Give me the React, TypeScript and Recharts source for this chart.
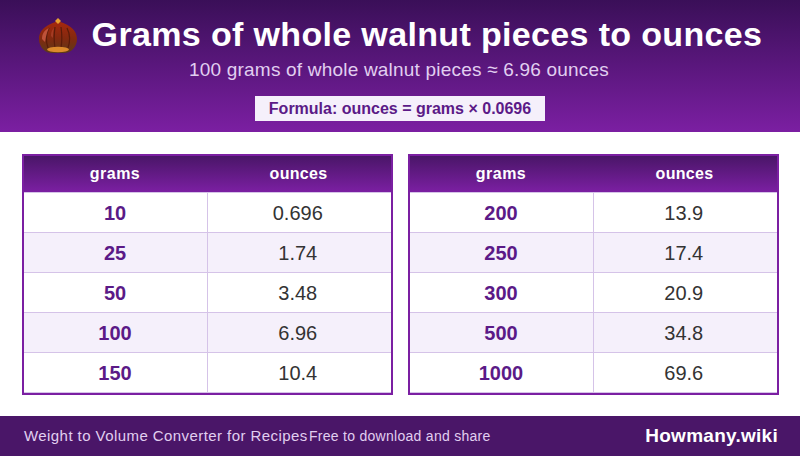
import React from 'react';
import { BarChart, Bar, XAxis, YAxis, LabelList, Cell, Surface } from 'recharts';

const FONT = '"Liberation Sans", Arial, sans-serif';
const title = 'Grams of whole walnut pieces to ounces';
const subtitle = '100 grams of whole walnut pieces ≈ 6.96 ounces';
const formula = 'Formula: ounces = grams × 0.0696';
const footerLeft = 'Weight to Volume Converter for Recipes';
const footerMiddle = 'Free to download and share';
const footerRight = 'Howmany.wiki';
const columns = ['grams', 'ounces'];

const gramsA = ['10', '25', '50', '100', '150'];
const ouncesA = ['0.696', '1.74', '3.48', '6.96', '10.4'];
const gramsB = ['200', '250', '300', '500', '1000'];
const ouncesB = ['13.9', '17.4', '20.9', '34.8', '69.6'];

const PURPLE = '#7b1fa2';
const LINE = '#d5c3e8';

const CellShape = (props: any) => {
  const { x, y, width, height, fill } = props;
  return (
    <g>
      <rect x={x} y={y} width={width} height={height} fill={fill} />
      <line x1={x} x2={x + width} y1={y + height - 0.5} y2={y + height - 0.5} stroke={LINE} />
      {props.divider ? (
        <line x1={Math.floor(x) + 0.5} x2={Math.floor(x) + 0.5} y1={y} y2={y + height} stroke={LINE} />
      ) : null}
    </g>
  );
};

const cellLabel = (color: string, weight: number, shift: number) => (p: any) => (
  <text
    x={p.x + p.width / 2 + shift}
    y={p.y + p.height / 2 + 6.5}
    textAnchor="middle"
    fill={color}
    fontFamily={FONT}
    fontWeight={weight}
    fontSize={20}
  >
    {p.value}
  </text>
);

function TableChart({ id, left, grams, ounces }: { id: string; left: number; grams: string[]; ounces: string[] }) {
  const rows = grams.map((g, i) => ({ grams: g, ounces: ounces[i], a: 1, b: 1 }));
  const W = 371;
  const H = 241;
  return (
    <div style={{ position: 'absolute', left, top: 154, width: W, height: H }}>
      <BarChart
        width={W}
        height={H}
        data={rows}
        layout="vertical"
        barCategoryGap={0}
        margin={{ top: 39, right: 2, bottom: 2, left: 2 }}
      >
        <defs>
          <linearGradient id={id} x1="0" y1="0" x2="0" y2="1">
            <stop offset="0" stopColor="#4a1668" />
            <stop offset="1" stopColor={PURPLE} />
          </linearGradient>
        </defs>
        <XAxis type="number" hide domain={[0, 2]} />
        <YAxis type="category" dataKey="grams" hide />
        <rect x={1} y={1} width={W - 2} height={H - 2} fill="none" stroke={PURPLE} strokeWidth={2} />
        <rect x={2} y={2} width={W - 4} height={36} fill={`url(#${id})`} />
        <line x1={2} x2={W - 2} y1={38.5} y2={38.5} stroke={LINE} />
        <text x={93} y={25} textAnchor="middle" fill="#fff" fontFamily={FONT} fontWeight={700} fontSize={16} letterSpacing={0.5}>{columns[0]}</text>
        <text x={276.5} y={25} textAnchor="middle" fill="#fff" fontFamily={FONT} fontWeight={700} fontSize={16} letterSpacing={0.3}>{columns[1]}</text>
        <Bar dataKey="a" stackId="r" isAnimationActive={false} shape={(p: any) => <CellShape {...p} />}>
          {rows.map((r, i) => <Cell key={r.grams} fill={i % 2 ? '#f5f0fb' : '#ffffff'} />)}
          <LabelList dataKey="grams" content={cellLabel('#5b1a87', 700, -0.75)} />
        </Bar>
        <Bar dataKey="b" stackId="r" isAnimationActive={false} shape={(p: any) => <CellShape {...p} divider />}>
          {rows.map((r, i) => <Cell key={r.grams} fill={i % 2 ? '#f5f0fb' : '#ffffff'} />)}
          <LabelList dataKey="ounces" content={cellLabel('#333333', 400, -1.5)} />
        </Bar>
      </BarChart>
    </div>
  );
}

export default function App() {
  return (
    <div style={{ position: 'absolute', left: 0, top: 0, width: 800, height: 456, background: '#fff', overflow: 'hidden' }}>
      <div style={{ position: 'absolute', left: 0, top: 0 }}>
        <Surface width={800} height={456}>
          <defs>
            <linearGradient id="hdr" x1="0" y1="0" x2="0" y2="1">
              <stop offset="0" stopColor="#3a0f58" />
              <stop offset="1" stopColor={PURPLE} />
            </linearGradient>
            <linearGradient id="nut" x1="0" y1="0" x2="0" y2="1">
              <stop offset="0" stopColor="#a8280e" />
              <stop offset="0.55" stopColor="#82290f" />
              <stop offset="1" stopColor="#5c3a18" />
            </linearGradient>
          </defs>
          <rect x={0} y={0} width={800} height={132} fill="url(#hdr)" />
          <path d="M58 21 C50 24 39 28 39 39 C39 47 45 53 52 53 L64 53 C71 53 77 47 77 39 C77 28 66 24 58 21 Z" fill="url(#nut)" />
          <path d="M49 28 C46 34 46 42 48 48 M55 27 C54 34 54 42 55 48 M61 27 C62 34 62 42 61 48 M67 28 C70 34 70 42 68 48" stroke="#5a1c0a" strokeWidth={1.2} fill="none" />
          <path d="M42 39 C42 33 45 30 49 28 C47 32 46 36 45 42 Z" fill="#d0604a" opacity={0.75} />
          <path d="M51 36 C51 32 52 30 54 28 C53 32 53 35 53 38 Z" fill="#c0503a" opacity={0.5} />
          <ellipse cx={58} cy={49.5} rx={11} ry={2.8} fill="#dc8a2c" />
          <path d="M58 18 L61 21 L58 24 L55 21 Z" fill="#e8a030" />
          <text x={427} y={46} textAnchor="middle" fill="#fff" fontFamily={FONT} fontWeight={700} fontSize={34} letterSpacing={0.35}>{title}</text>
          <text x={399} y={76} textAnchor="middle" fill="#e1cff0" fontFamily={FONT} fontSize={19} letterSpacing={0.2}>{subtitle}</text>
          <rect x={255} y={96} width={290} height={25} fill="#f5f0fb" />
          <text x={400} y={114} textAnchor="middle" fill="#5b1a87" fontFamily={FONT} fontWeight={700} fontSize={16}>{formula}</text>
          <rect x={0} y={416} width={800} height={40} fill="#4a1668" />
          <text x={24} y={441} fill="#e1cff0" fontFamily={FONT} fontSize={15} letterSpacing={0.43}>{footerLeft}</text>
          <text x={309} y={441} fill="#e1cff0" fontFamily={FONT} fontSize={14} letterSpacing={0.28}>{footerMiddle}</text>
          <text x={778} y={442} textAnchor="end" fill="#fff" fontFamily={FONT} fontWeight={700} fontSize={19} letterSpacing={0.27}>{footerRight}</text>
        </Surface>
      </div>
      <TableChart id="th1" left={22} grams={gramsA} ounces={ouncesA} />
      <TableChart id="th2" left={408} grams={gramsB} ounces={ouncesB} />
    </div>
  );
}
